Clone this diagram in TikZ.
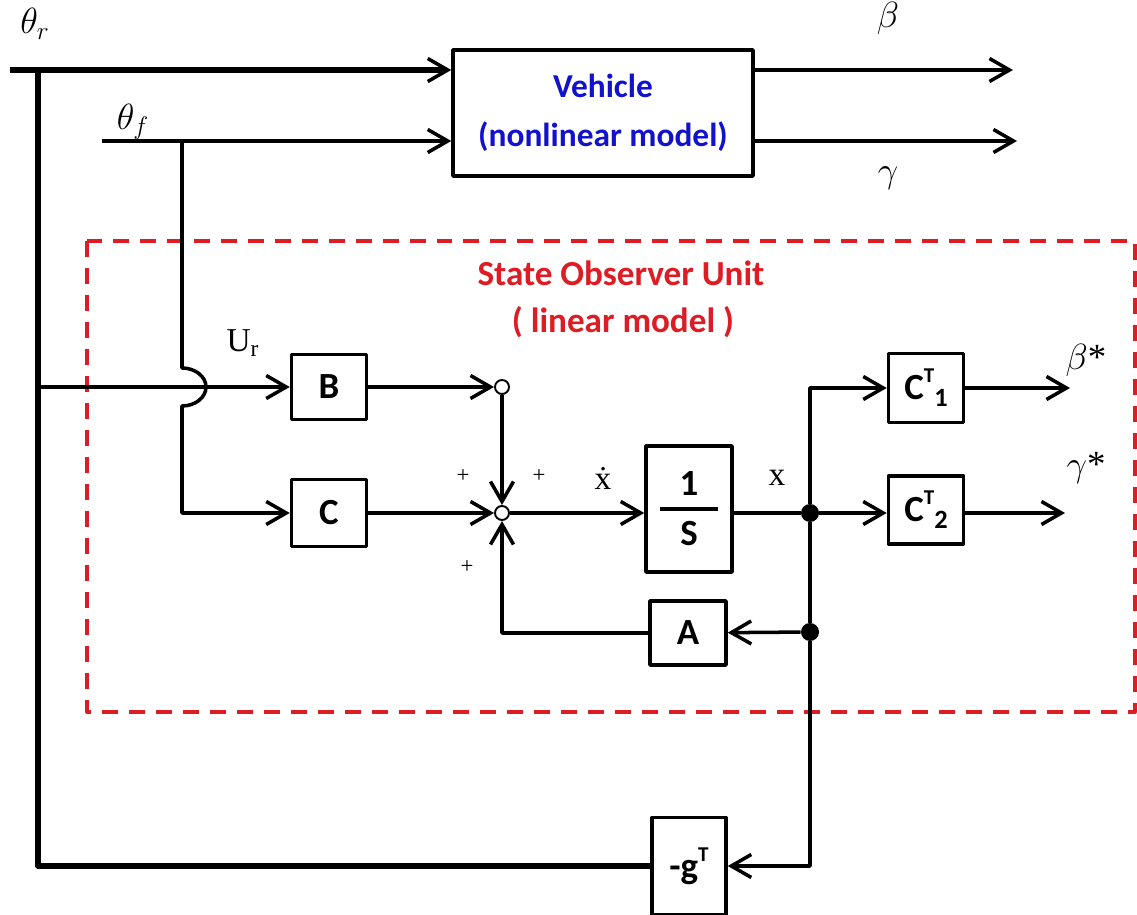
\documentclass[tikz,border=0pt]{standalone}
\usepackage{fontspec}
\setmainfont{Liberation Serif}
\newfontfamily\blkfont{Carlito}
\usetikzlibrary{arrows.meta}
\definecolor{obsred}{RGB}{222,28,36}
\definecolor{vehblue}{RGB}{18,18,205}
\tikzset{
  blk/.style={draw, line width=2pt, inner sep=0pt, font=\blkfont\bfseries\fontsize{21}{24}\selectfont},
  blktxt/.style={inner sep=0pt, font=\blkfont\bfseries\fontsize{21}{24}\selectfont},
  sig/.style={line width=2pt},
  thk/.style={line width=3pt},
  sumpt/.style={circle, draw, line width=1.1pt, fill=white, minimum size=0.28cm, inner sep=0pt},
  jdot/.style={circle, fill, minimum size=0.36cm, inner sep=0pt},
  lbl/.style={font=\fontsize{21}{24}\selectfont},
  sml/.style={font=\fontsize{19}{22}\selectfont},
  pls/.style={font=\fontsize{13}{15}\selectfont},
  redtxt/.style={text=obsred, font=\blkfont\bfseries\fontsize{20}{24}\selectfont}
}
\newcommand{\supT}{\raisebox{0.45em}{\fontsize{12}{12}\selectfont T}}
\begin{document}
\begin{tikzpicture}[x=0.02cm, y=-0.02cm, line join=round, >={Straight Barb[length=4mm,width=4.6mm,line width=2pt]}]
\useasboundingbox (0,0) rectangle (1137,915);
% observer frame
\draw[obsred, line width=1.9pt, dash pattern=on 0.32cm off 0.22cm] (87,241) rectangle (1135,712);
\node[redtxt] (obst) at (621,273) {State Observer Unit};
\node[redtxt] (obss) at (623,322) {( linear model )};

% blocks
\node[blk, minimum width=6cm, minimum height=2.52cm, align=center, text=vehblue, font=\blkfont\bfseries\fontsize{19}{28}\selectfont] (veh) at (603,113) {Vehicle\\(nonlinear model)};
\node[blk, minimum width=1.5cm, minimum height=1.3cm] (bblk) at (329,387) {B};
\node[blk, minimum width=1.5cm, minimum height=1.34cm] (cblk) at (329,513) {C};
\node[blk, minimum width=1.72cm, minimum height=2.52cm] (ints) at (689,509) {};
\node[blktxt] (ione) at ([yshift=0.5cm]ints.center) {1};
\node[blktxt] (ises) at ([yshift=-0.5cm]ints.center) {S};
\draw[sig] ([xshift=-0.59cm]ints.center) -- ([xshift=0.59cm]ints.center);
\node[blk, minimum width=1.5cm, minimum height=1.38cm] (c1blk) at (926,388) {C\supT\raisebox{-0.2em}{\fontsize{15}{15}\selectfont 1}};
\node[blk, minimum width=1.5cm, minimum height=1.36cm] (c2blk) at (926,510) {C\supT\raisebox{-0.2em}{\fontsize{15}{15}\selectfont 2}};
\node[blk, minimum width=1.52cm, minimum height=1.28cm] (ablk) at (688,633) {A};
\node[blk, minimum width=1.48cm, minimum height=1.94cm] (gblk) at (689,866) {-g\supT};

% summing points and junctions
\node[sumpt] (bsum) at (502,387) {};
\node[sumpt] (sumc) at (502,513) {};
\node[jdot] (d1) at (810,513) {};
\node[jdot] (d2) at (810,632) {};

\coordinate (rin) at (10,70);
\coordinate (rj) at (38,70);
\coordinate (rmid) at (38,387);
\coordinate (rbot) at (38,866);
\coordinate (fin) at (102,141);
\coordinate (fj) at (182,141);
\coordinate (hop) at (182,368);
\coordinate (betout) at (1013,70);
\coordinate (gamout) at (1017,141);
\coordinate (bstar) at (1070,388);
\coordinate (gstar) at (1065,513);

% connectors
\draw[thk,->] (rin) -- (veh.west |- rin);
\draw[thk] (rj) -- (rbot) -- (gblk);
\draw[sig,->] (fin) -- (veh.west |- fin);
\draw[sig,->] (veh.east |- rin) -- (betout);
\draw[sig,->] (veh.east |- fin) -- (gamout);
\draw[sig,->] (fj) -- (hop) arc[start angle=-90, end angle=90, x radius=24, y radius=19] |- (cblk);
\draw[sig,->] (rmid) -- (bblk);
\draw[sig,->] (bblk) -- (bsum);
\draw[sig,->] (bsum) -- (sumc);
\draw[sig,->] (cblk) -- (sumc);
\draw[sig,->] (sumc) -- (sumc -| ints.west);
\draw[sig] (ints.east |- sumc) -- (d1);
\draw[sig,->] (d1) -- (d1 -| c2blk.west);
\draw[sig,->] (d1) |- (c1blk);
\draw[sig] (d1) -- (d2);
\draw[sig,->] (d2) -- (ablk);
\draw[sig,->] (ablk) -| (sumc);
\draw[sig,->] (d2) |- (gblk);
\draw[sig,->] (c1blk) -- (bstar);
\draw[sig,->] (c2blk.east |- d1) -- (gstar);

% labels
\node[lbl] (thr) at (35,24) {$\theta_r$};
\node[lbl] (thf) at (133,122) {$\theta_f$};
\node[lbl] (bet) at (888,18) {$\beta$};
\node[lbl] (gam) at (888,178) {$\gamma$};
\node[lbl] (bets) at (1086,360) {$\beta$*};
\node[lbl] (gams) at (1086,468) {$\gamma$*};
\node[sml] (ur) at (243,343) {U\textsubscript{r}};
\node[sml] (xdot) at (603,478) {\.{x}};
\node[sml] (xlab) at (777,478) {x};
\node[pls] (p1) at (463,476) {+};
\node[pls] (p2) at (539,476) {+};
\node[pls] (p3) at (467,567) {+};
\end{tikzpicture}
\end{document}
